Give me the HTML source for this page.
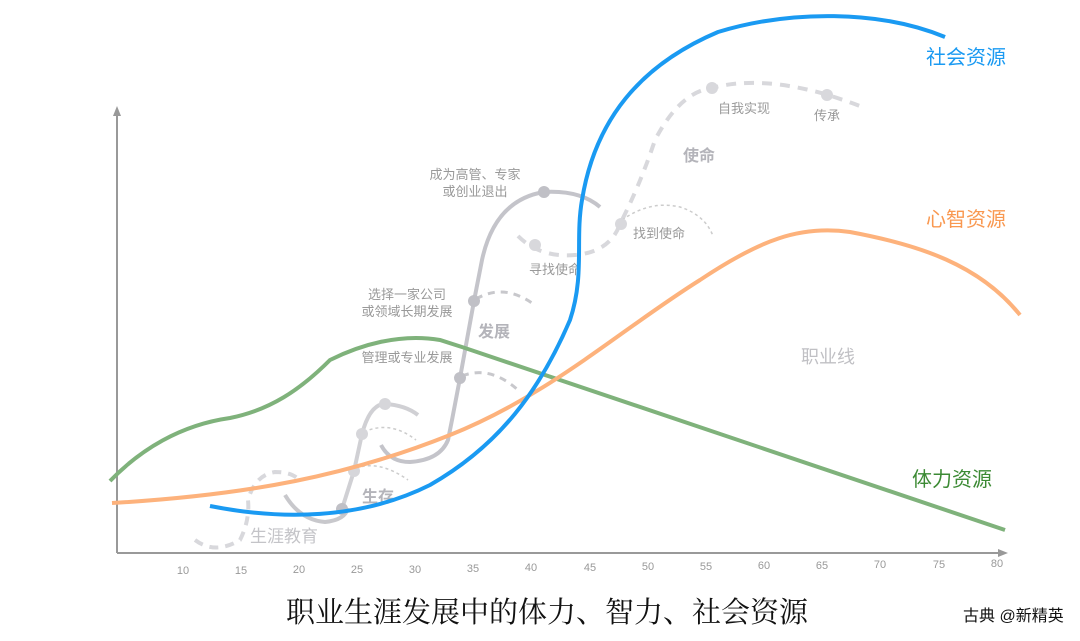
<!DOCTYPE html>
<html><head><meta charset="utf-8"><style>
html,body{margin:0;padding:0;background:#fff;}
svg{display:block;font-family:"Liberation Sans","Noto Sans CJK SC",sans-serif;}
</style></head><body>
<svg width="1080" height="641" viewBox="0 0 1080 641" xmlns="http://www.w3.org/2000/svg">
<line x1="117" y1="112" x2="117" y2="553" stroke="#999" stroke-width="2"/>
<polygon points="117,106 113,116 121,116" fill="#999"/>
<line x1="117" y1="553" x2="1000" y2="553" stroke="#999" stroke-width="2"/>
<polygon points="1008,553 998,549 998,557" fill="#999"/>
<g font-size="11" fill="#999" text-anchor="middle">
<text x="183" y="574">10</text><text x="241" y="574">15</text><text x="299" y="573">20</text><text x="357" y="573">25</text><text x="415" y="573">30</text><text x="473" y="572">35</text><text x="531" y="571">40</text><text x="590" y="571">45</text><text x="648" y="570">50</text><text x="706" y="570">55</text><text x="764" y="569">60</text><text x="822" y="569">65</text><text x="880" y="568">70</text><text x="939" y="568">75</text><text x="997" y="567">80</text>
</g>
<g fill="none" stroke-linecap="butt">
<path d="M195,540 Q215,555 240,540 Q250,520 248,500 Q255,475 275,472 Q290,472 297,478" stroke="#d8d8dc" stroke-width="4" stroke-dasharray="9,7"/>
<path d="M285,495 Q300,520 325,522 Q345,520 348,508" stroke="#c8c8cc" stroke-width="4"/>
<path d="M342,509 L354,471 L362,434 Q370,404 385,404 Q405,405 418,415" stroke="#d0d0d4" stroke-width="4"/>
<path d="M381,445 Q390,462 410,462 Q440,460 448,440 L452,420 L460,378 L474,301 L482,260 Q495,200 544,192 Q580,190 600,207" stroke="#c4c4ca" stroke-width="4"/>
<path d="M356,468 Q380,460 408,480" stroke="#ccc" stroke-width="1.5" stroke-dasharray="3,3"/>
<path d="M364,432 Q390,420 416,440" stroke="#ccc" stroke-width="1.5" stroke-dasharray="3,3"/>
<path d="M462,376 Q490,365 518,390" stroke="#c8c8cc" stroke-width="3" stroke-dasharray="7,6"/>
<path d="M476,299 Q505,282 536,306" stroke="#c8c8cc" stroke-width="3" stroke-dasharray="7,6"/>
<path d="M518,236 Q540,258 575,255 Q610,252 620,224 Q640,185 655,140 Q680,92 712,88 Q760,75 828,95 Q850,102 865,108" stroke="#d8d8dc" stroke-width="4" stroke-dasharray="10,8"/>
<path d="M622,220 Q650,200 680,207 Q705,215 713,236" stroke="#ccc" stroke-width="1.5" stroke-dasharray="3,3"/>
</g>
<g fill="#c0c0c6">
<circle cx="342" cy="509" r="6"/><circle cx="354" cy="471" r="6" fill="#d6d6da"/><circle cx="362" cy="434" r="6" fill="#d6d6da"/><circle cx="385" cy="404" r="6" fill="#d6d6da"/>
<circle cx="460" cy="378" r="6"/><circle cx="474" cy="301" r="6"/><circle cx="544" cy="192" r="6"/>
<circle cx="535" cy="245" r="6" fill="#d8d8dc"/><circle cx="621" cy="224" r="6" fill="#d8d8dc"/><circle cx="712" cy="88" r="6" fill="#d8d8dc"/><circle cx="827" cy="95" r="6" fill="#d8d8dc"/>
</g>
<g fill="#999" font-size="13" text-anchor="middle">
<text x="475" y="179">成为高管、专家</text><text x="475" y="196">或创业退出</text>
<text x="407" y="299">选择一家公司</text><text x="407" y="316">或领域长期发展</text>
<text x="407" y="362">管理或专业发展</text>
<text x="555" y="274">寻找使命</text>
<text x="659" y="238">找到使命</text>
<text x="744" y="113">自我实现</text>
<text x="827" y="120">传承</text>
</g>
<g fill="#b4b4ba" font-weight="bold">
<text x="478" y="337" font-size="16">发展</text>
<text x="362" y="502" font-size="16">生存</text>
<text x="683" y="161" font-size="16">使命</text>
<text x="250" y="542" font-size="17" font-weight="normal" fill="#c4c4c8">生涯教育</text>
<text x="828" y="363" font-size="18" font-weight="normal" fill="#c0c0c4" text-anchor="middle">职业线</text>
</g>
<path d="M110,481 C140,450 180,425 230,418 C270,410 300,390 330,360 C360,345 400,333 440,340 L465,348 L1005,530" fill="none" stroke="#7fb27b" stroke-width="4"/>
<path d="M112,503 C250,495 350,475 450,435 C550,395 620,330 700,280 C760,240 800,225 850,232 C920,245 980,265 1020,315" fill="none" stroke="#fdb27c" stroke-width="4"/>
<path d="M210,506 C280,520 360,520 430,485 C500,445 540,390 570,320 C585,275 575,240 582,200 C595,120 640,65 718,32 C790,10 880,10 945,37" fill="none" stroke="#1a9af2" stroke-width="4"/>
<text x="926" y="64" font-size="20" fill="#1a9af2">社会资源</text>
<text x="926" y="226" font-size="20" fill="#f99850">心智资源</text>
<text x="912" y="486" font-size="20" fill="#3c8a34">体力资源</text>
<text x="547" y="622" font-size="29" fill="#111" text-anchor="middle" font-family="'Liberation Serif','Noto Serif CJK SC',serif">职业生涯发展中的体力、智力、社会资源</text>
<text x="963" y="621" font-size="16" fill="#111">古典 @新精英</text>
</svg>
</body></html>
